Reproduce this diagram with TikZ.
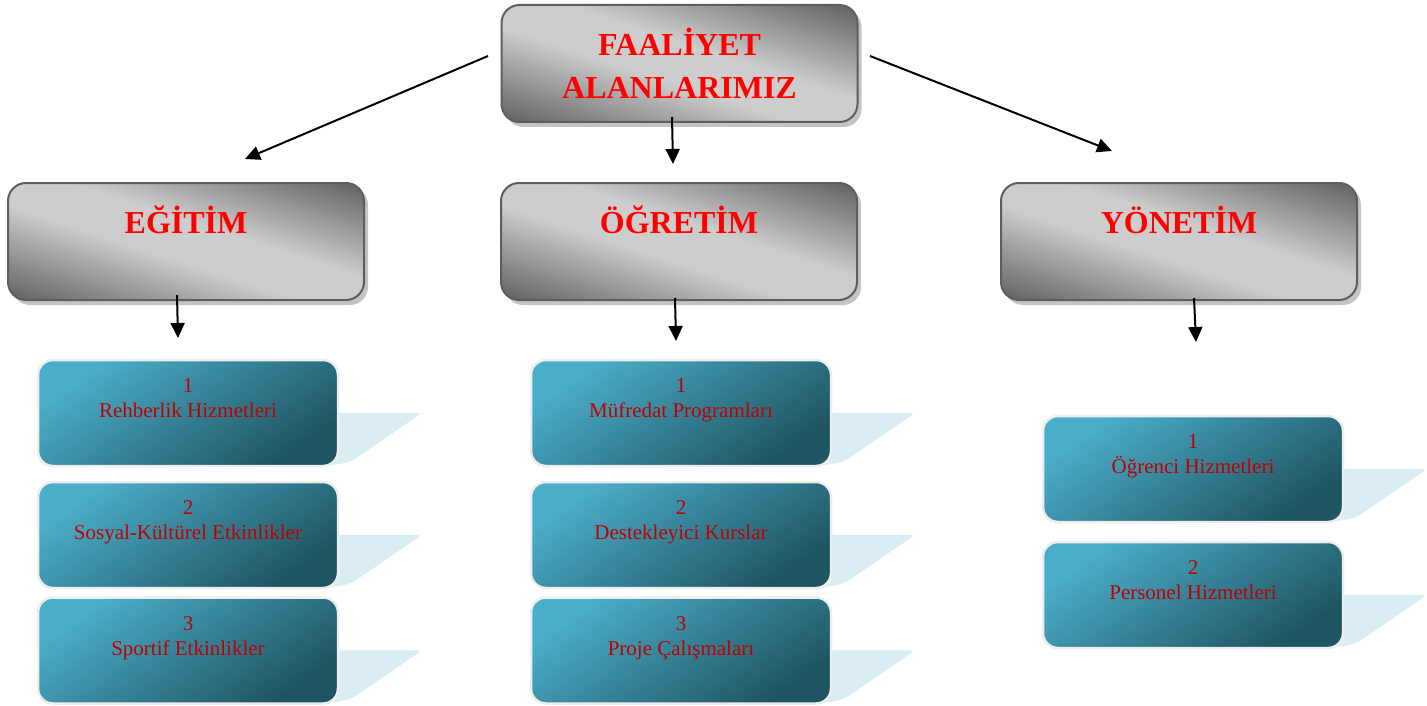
\documentclass[tikz,border=0pt]{standalone}
\usepackage{fontspec}
\setmainfont{Liberation Serif}
\usetikzlibrary{arrows.meta,calc}
\definecolor{gdark}{HTML}{666666}
\definecolor{glight}{HTML}{CDCDCD}
\definecolor{gborder}{HTML}{5E5E5E}
\definecolor{gshadow}{HTML}{C4C4C4}
\definecolor{blight}{HTML}{4BAEC9}
\definecolor{bdark}{HTML}{1F5462}
\definecolor{bborder}{HTML}{EDEDED}
\definecolor{bshadow}{HTML}{DAEDF3}
\definecolor{txtred}{HTML}{C00000}
\definecolor{titlered}{HTML}{FF0000}
\pgfdeclareverticalshading{grayband}{420bp}{color(0bp)=(gdark); color(15bp)=(gdark); color(100bp)=(glight); color(140bp)=(glight); color(225bp)=(gdark); color(240bp)=(gdark)}
\pgfdeclarehorizontalshading{bluegrad}{100bp}{color(0bp)=(blight); color(25bp)=(blight); color(75bp)=(bdark); color(100bp)=(bdark)}
\tikzset{
  graybox/.style={rounded corners=18pt, draw=gborder, line width=2pt,
    minimum width=356pt, minimum height=117pt, inner sep=0pt, align=center,
    font=\fontsize{32}{43}\selectfont\bfseries, text=titlered},
  graytitle/.style={text height=23pt, text depth=40pt},
  grayshadow/.style={rounded corners=18pt, fill=gshadow, draw=none},
  bgshade/.style={inner sep=0pt, rotate=-18},
  bluebox/.style={rounded corners=15pt, draw=bborder, line width=2.5pt, shading=bluegrad, shading angle=-55,
    minimum width=300pt, minimum height=106pt, inner sep=0pt, align=center,
    font=\fontsize{21}{25}\selectfont, text=txtred},
  blueshadow/.style={fill=bshadow, draw=none, rounded corners=5pt},
  arr/.style={line width=2pt, -{Stealth[length=15pt,width=14pt,inset=0pt]}}
}
\newcommand{\bshadowat}[1]{%
  \fill[blueshadow] ($(#1.north east)+(-20pt,-53pt)$) -- ($(#1.north east)+(84pt,-53pt)$)
    -- ($(#1.north east)+(14pt,-101pt)$) [rounded corners=10pt]-- ($(#1.south east)+(-2pt,1pt)$) -- ($(#1.south east)+(-20pt,1pt)$) -- cycle;}
\newcommand{\graybg}[3]{%
  \fill[grayshadow] ($(#2,#3)+(-174,-54.5)$) rectangle ($(#2,#3)+(182,63.5)$);
  \begin{scope}
    \clip[rounded corners=18pt] ($(#2,#3)+(-178,-58.5)$) rectangle ($(#2,#3)+(178,58.5)$);
    \node[bgshade] (#1) at (#2,#3) {\pgfuseshading{grayband}};
  \end{scope}}
\begin{document}
\begin{tikzpicture}[x=1pt,y=-1pt]
\useasboundingbox (0,0) rectangle (1427,706);
% gray boxes
\graybg{gtop}{679.5}{63.5}
\node[graybox] (top) at (679.5,63.5) {FAALİYET\\ALANLARIMIZ};
\graybg{gegitim}{186}{241.5}
\node[graybox, graytitle] (egitim) at (186,241.5) {EĞİTİM};
\graybg{gogretim}{679}{241.5}
\node[graybox, graytitle] (ogretim) at (679,241.5) {ÖĞRETİM};
\graybg{gyonetim}{1179}{241.5}
\node[graybox, graytitle] (yonetim) at (1179,241.5) {YÖNETİM};
% arrows
\coordinate (a1s) at (488,56); \coordinate (a1e) at (245,159);
\coordinate (a2s) at (672,117); \coordinate (a2e) at (673,164);
\coordinate (a3s) at (870,56); \coordinate (a3e) at (1112,151);
\coordinate (b1s) at (177,295); \coordinate (b1e) at (178,338);
\coordinate (b2s) at (675,298); \coordinate (b2e) at (676,341);
\coordinate (b3s) at (1194,298); \coordinate (b3e) at (1196,342);
\draw[arr] (a1s) -- (a1e);
\draw[arr] (a2s) -- (a2e);
\draw[arr] (a3s) -- (a3e);
\draw[arr] (b1s) -- (b1e);
\draw[arr] (b2s) -- (b2e);
\draw[arr] (b3s) -- (b3e);
% blue boxes: positions
\coordinate (pe1) at (188,413); \coordinate (pe2) at (188,535); \coordinate (pe3) at (188,650.5);
\coordinate (po1) at (681,413); \coordinate (po2) at (681,535); \coordinate (po3) at (681,650.5);
\coordinate (py1) at (1193,469); \coordinate (py2) at (1193,595);
\foreach \p in {pe1,pe2,pe3,po1,po2,po3,py1,py2}{
  \path (\p) node[minimum width=300pt, minimum height=106pt, inner sep=0pt] (s\p) {};
  \bshadowat{s\p}
}
\newcommand{\lastl}{\\\rule[-4pt]{0pt}{4pt}}
\node[bluebox] (e1) at (pe1) {1\\Rehberlik Hizmetleri\lastl};
\node[bluebox] (e2) at (pe2) {2\\Sosyal-Kültürel Etkinlikler\lastl};
\node[bluebox] (e3) at (pe3) {3\\Sportif Etkinlikler\lastl};
\node[bluebox] (o1) at (po1) {1\\Müfredat Programları\lastl};
\node[bluebox] (o2) at (po2) {2\\Destekleyici Kurslar\lastl};
\node[bluebox] (o3) at (po3) {3\\Proje Çalışmaları\lastl};
\node[bluebox] (y1) at (py1) {1\\Öğrenci Hizmetleri\lastl};
\node[bluebox] (y2) at (py2) {2\\Personel Hizmetleri\lastl};
\end{tikzpicture}
\end{document}
